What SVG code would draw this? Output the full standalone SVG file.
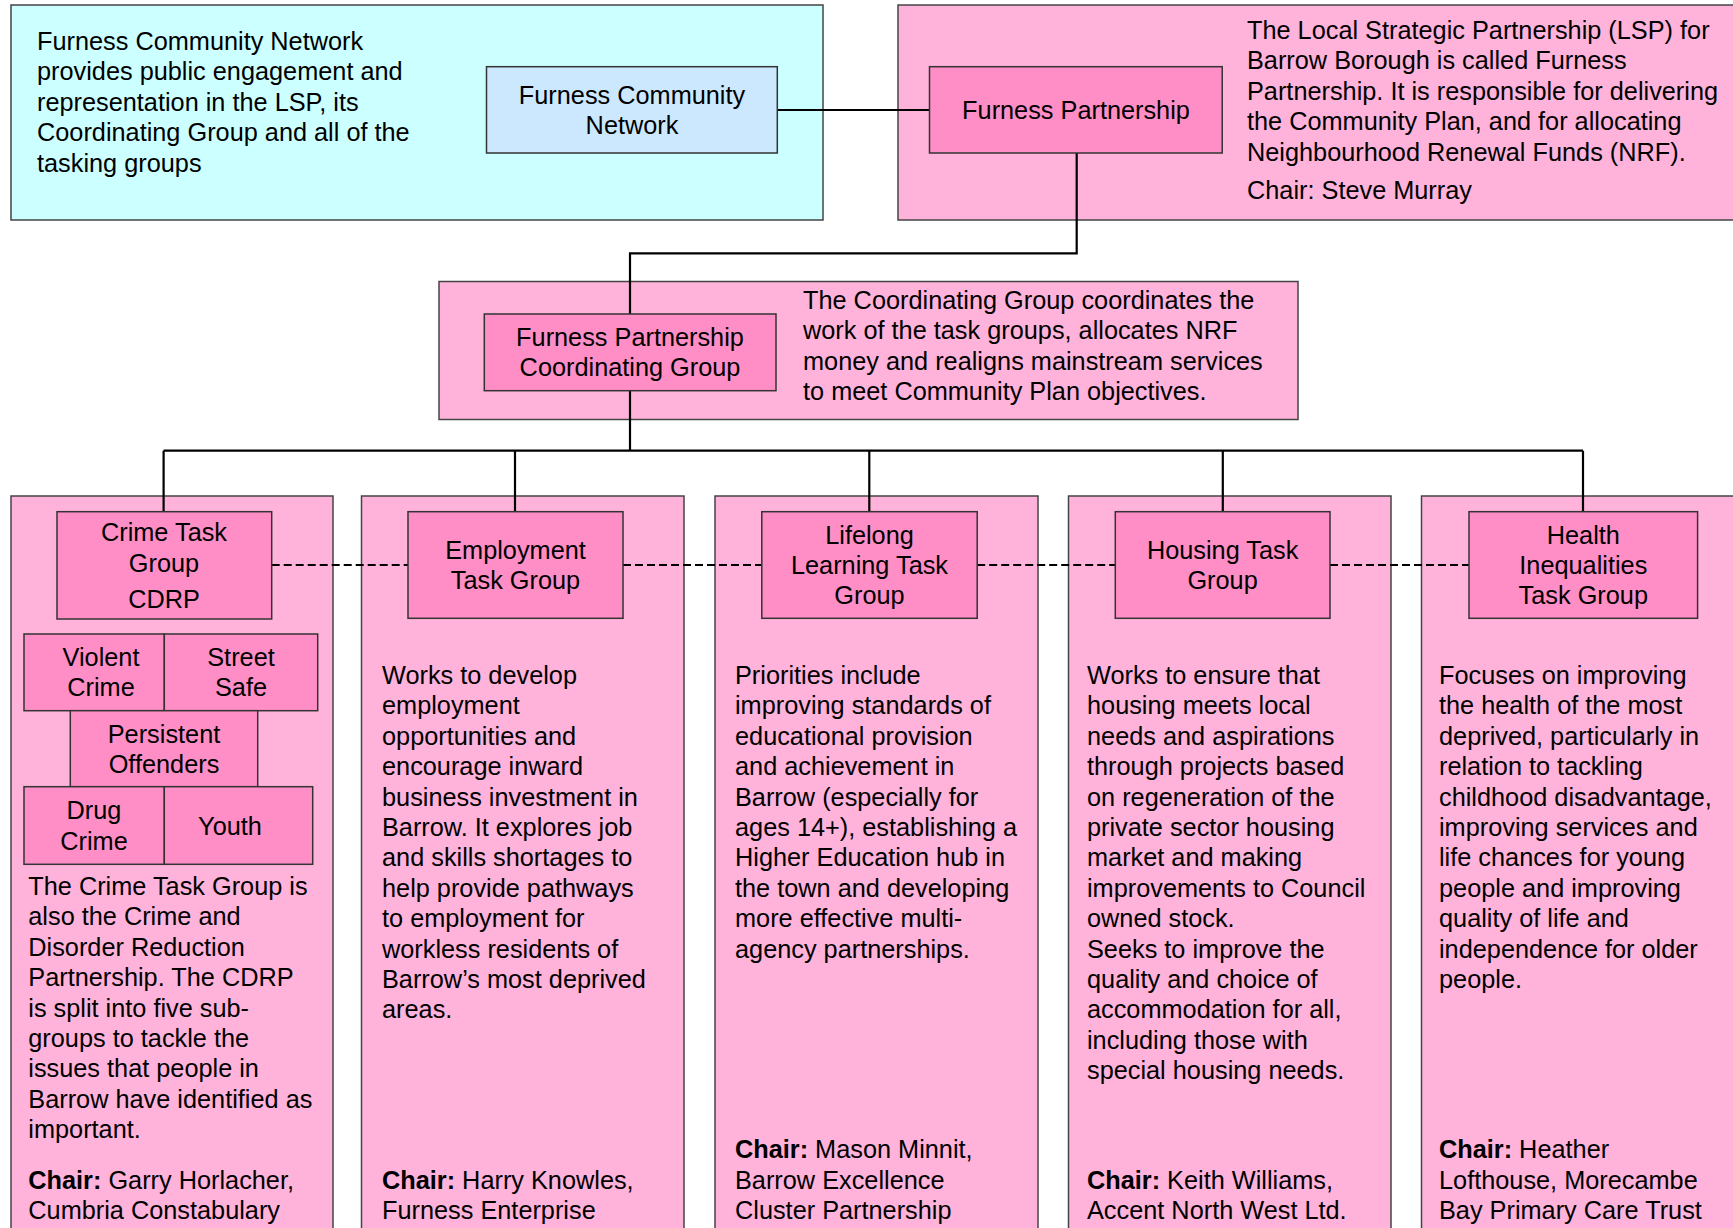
<svg xmlns="http://www.w3.org/2000/svg" width="1733" height="1228" viewBox="0 0 1733 1228">
<style>
.t{font-family:"Liberation Sans",Arial,Helvetica,sans-serif;font-size:25.3px;fill:#000}
.c{text-anchor:middle}
.b{font-weight:bold}
.outer{stroke:#444;stroke-width:1.5}
.pinkbg{fill:#FFB3DA}
.node{fill:#FF8EC6;stroke:#333;stroke-width:1.5}
.conn{stroke:#000;stroke-width:2.2;fill:none}
.dash{stroke-dasharray:8 4}
</style>
<rect x="0" y="0" width="1733" height="1228" fill="#fff"/>

<!-- containers -->
<g id="fcn-panel">
<rect class="outer" x="11" y="5" width="812" height="215" fill="#CCFFFF"/>
<text class="t"><tspan x="37" y="50">Furness Community Network</tspan><tspan x="37" y="80.4">provides public engagement and</tspan><tspan x="37" y="110.8">representation in the LSP, its</tspan><tspan x="37" y="141.2">Coordinating Group and all of the</tspan><tspan x="37" y="171.6">tasking groups</tspan></text>
</g>
<g id="lsp-panel">
<rect class="outer pinkbg" x="898" y="5" width="850" height="215"/>
<text class="t"><tspan x="1247" y="39">The Local Strategic Partnership (LSP) for</tspan><tspan x="1247" y="69.4">Barrow Borough is called Furness</tspan><tspan x="1247" y="99.8">Partnership. It is responsible for delivering</tspan><tspan x="1247" y="130.2">the Community Plan, and for allocating</tspan><tspan x="1247" y="160.6">Neighbourhood Renewal Funds (NRF).</tspan><tspan x="1247" y="198.5">Chair: Steve Murray</tspan></text>
</g>
<g id="coord-panel">
<rect class="outer pinkbg" x="439" y="281.5" width="859" height="138"/>
<text class="t"><tspan x="803" y="309">The Coordinating Group coordinates the</tspan><tspan x="803" y="339.4">work of the task groups, allocates NRF</tspan><tspan x="803" y="369.8">money and realigns mainstream services</tspan><tspan x="803" y="400.2">to meet Community Plan objectives.</tspan></text>
</g>
<g id="crime-panel">
<rect class="outer pinkbg" x="11" y="496" width="322" height="760"/>
<text class="t"><tspan x="28.3" y="895">The Crime Task Group is</tspan><tspan x="28.3" y="925.4">also the Crime and</tspan><tspan x="28.3" y="955.8">Disorder Reduction</tspan><tspan x="28.3" y="986.2">Partnership. The CDRP</tspan><tspan x="28.3" y="1016.6">is split into five sub-</tspan><tspan x="28.3" y="1047">groups to tackle the</tspan><tspan x="28.3" y="1077.4">issues that people in</tspan><tspan x="28.3" y="1107.8">Barrow have identified as</tspan><tspan x="28.3" y="1138.2">important.</tspan></text>
<text class="t"><tspan x="28.3" y="1188.5"><tspan class="b">Chair:</tspan> Garry Horlacher,</tspan><tspan x="28.3" y="1218.9">Cumbria Constabulary</tspan></text>
</g>
<g id="employment-panel">
<rect class="outer pinkbg" x="361.5" y="496" width="322.5" height="760"/>
<text class="t"><tspan x="382" y="684">Works to develop</tspan><tspan x="382" y="714.4">employment</tspan><tspan x="382" y="744.8">opportunities and</tspan><tspan x="382" y="775.2">encourage inward</tspan><tspan x="382" y="805.6">business investment in</tspan><tspan x="382" y="836">Barrow. It explores job</tspan><tspan x="382" y="866.4">and skills shortages to</tspan><tspan x="382" y="896.8">help provide pathways</tspan><tspan x="382" y="927.2">to employment for</tspan><tspan x="382" y="957.6">workless residents of</tspan><tspan x="382" y="988">Barrow’s most deprived</tspan><tspan x="382" y="1018.4">areas.</tspan></text>
<text class="t"><tspan x="382" y="1188.5"><tspan class="b">Chair:</tspan> Harry Knowles,</tspan><tspan x="382" y="1218.9">Furness Enterprise</tspan></text>
</g>
<g id="lifelong-panel">
<rect class="outer pinkbg" x="715" y="496" width="323" height="760"/>
<text class="t"><tspan x="735" y="684">Priorities include</tspan><tspan x="735" y="714.4">improving standards of</tspan><tspan x="735" y="744.8">educational provision</tspan><tspan x="735" y="775.2">and achievement in</tspan><tspan x="735" y="805.6">Barrow (especially for</tspan><tspan x="735" y="836">ages 14+), establishing a</tspan><tspan x="735" y="866.4">Higher Education hub in</tspan><tspan x="735" y="896.8">the town and developing</tspan><tspan x="735" y="927.2">more effective multi-</tspan><tspan x="735" y="957.6">agency partnerships.</tspan></text>
<text class="t"><tspan x="735" y="1158.1"><tspan class="b">Chair:</tspan> Mason Minnit,</tspan><tspan x="735" y="1188.5">Barrow Excellence</tspan><tspan x="735" y="1218.9">Cluster Partnership</tspan></text>
</g>
<g id="housing-panel">
<rect class="outer pinkbg" x="1068.5" y="496" width="322.5" height="760"/>
<text class="t"><tspan x="1087" y="684">Works to ensure that</tspan><tspan x="1087" y="714.4">housing meets local</tspan><tspan x="1087" y="744.8">needs and aspirations</tspan><tspan x="1087" y="775.2">through projects based</tspan><tspan x="1087" y="805.6">on regeneration of the</tspan><tspan x="1087" y="836">private sector housing</tspan><tspan x="1087" y="866.4">market and making</tspan><tspan x="1087" y="896.8">improvements to Council</tspan><tspan x="1087" y="927.2">owned stock.</tspan><tspan x="1087" y="957.6">Seeks to improve the</tspan><tspan x="1087" y="988">quality and choice of</tspan><tspan x="1087" y="1018.4">accommodation for all,</tspan><tspan x="1087" y="1048.8">including those with</tspan><tspan x="1087" y="1079.2">special housing needs.</tspan></text>
<text class="t"><tspan x="1087" y="1188.5"><tspan class="b">Chair:</tspan> Keith Williams,</tspan><tspan x="1087" y="1218.9">Accent North West Ltd.</tspan></text>
</g>
<g id="health-panel">
<rect class="outer pinkbg" x="1421.5" y="496" width="330" height="760"/>
<text class="t"><tspan x="1439" y="684">Focuses on improving</tspan><tspan x="1439" y="714.4">the health of the most</tspan><tspan x="1439" y="744.8">deprived, particularly in</tspan><tspan x="1439" y="775.2">relation to tackling</tspan><tspan x="1439" y="805.6">childhood disadvantage,</tspan><tspan x="1439" y="836">improving services and</tspan><tspan x="1439" y="866.4">life chances for young</tspan><tspan x="1439" y="896.8">people and improving</tspan><tspan x="1439" y="927.2">quality of life and</tspan><tspan x="1439" y="957.6">independence for older</tspan><tspan x="1439" y="988">people.</tspan></text>
<text class="t"><tspan x="1439" y="1158.1"><tspan class="b">Chair:</tspan> Heather</tspan><tspan x="1439" y="1188.5">Lofthouse, Morecambe</tspan><tspan x="1439" y="1218.9">Bay Primary Care Trust</tspan></text>
</g>

<!-- connectors -->
<g id="connectors">
<path class="conn" d="M777.3 110 H929.5"/>
<path class="conn" d="M1076.7 153 V253.3 H630 V314"/>
<path class="conn" d="M630 390.7 V450.7"/>
<path class="conn" d="M163.6 450.7 H1583"/>
<path class="conn" d="M163.6 450.7 V511.7 M515 450.7 V511.7 M869.3 450.7 V511.7 M1222.8 450.7 V511.7 M1583 450.7 V511.7"/>
<path class="conn dash" d="M271.7 565 H408 M623 565 H761.8 M977.2 565 H1115.3 M1330 565 H1469"/>
</g>

<!-- nodes -->
<g id="n-fcn">
<rect x="486.5" y="66.7" width="290.8" height="86.3" fill="#CCE8FF" stroke="#333" stroke-width="1.5"/>
<text class="t c"><tspan x="632" y="104">Furness Community</tspan><tspan x="632" y="134.4">Network</tspan></text>
</g>
<g id="n-fp">
<rect class="node" x="929.5" y="66.7" width="292.7" height="86.3"/>
<text class="t c" x="1076" y="119">Furness Partnership</text>
</g>
<g id="n-coord">
<rect class="node" x="484.3" y="314" width="291.7" height="76.7"/>
<text class="t c"><tspan x="630" y="346">Furness Partnership</tspan><tspan x="630" y="376.4">Coordinating Group</tspan></text>
</g>
<g id="n-crime">
<rect class="node" x="57" y="511.7" width="214.7" height="107.3"/>
<text class="t c"><tspan x="164" y="541">Crime Task</tspan><tspan x="164" y="571.5">Group</tspan><tspan x="164" y="608">CDRP</tspan></text>
</g>
<g id="n-violent">
<rect class="node" x="24" y="634" width="140.3" height="76.7"/>
<text class="t c"><tspan x="101" y="666">Violent</tspan><tspan x="101" y="696.4">Crime</tspan></text>
</g>
<g id="n-street">
<rect class="node" x="164.3" y="634" width="153.4" height="76.7"/>
<text class="t c"><tspan x="241" y="666">Street</tspan><tspan x="241" y="696.4">Safe</tspan></text>
</g>
<g id="n-persistent">
<rect class="node" x="70.3" y="710.7" width="187.4" height="76"/>
<text class="t c"><tspan x="164" y="742.5">Persistent</tspan><tspan x="164" y="772.9">Offenders</tspan></text>
</g>
<g id="n-drug">
<rect class="node" x="24" y="786.7" width="140.3" height="77.6"/>
<text class="t c"><tspan x="94" y="819.3">Drug</tspan><tspan x="94" y="849.7">Crime</tspan></text>
</g>
<g id="n-youth">
<rect class="node" x="164.3" y="786.7" width="148.4" height="77.6"/>
<text class="t c" x="230" y="834.5">Youth</text>
</g>
<g id="n-employment">
<rect class="node" x="408" y="511.7" width="215" height="106.6"/>
<text class="t c"><tspan x="515.5" y="558.8">Employment</tspan><tspan x="515.5" y="589.2">Task Group</tspan></text>
</g>
<g id="n-lifelong">
<rect class="node" x="761.8" y="511.7" width="215.4" height="106.6"/>
<text class="t c"><tspan x="869.5" y="543.6">Lifelong</tspan><tspan x="869.5" y="574">Learning Task</tspan><tspan x="869.5" y="604.4">Group</tspan></text>
</g>
<g id="n-housing">
<rect class="node" x="1115.3" y="511.7" width="214.7" height="106.6"/>
<text class="t c"><tspan x="1222.6" y="558.8">Housing Task</tspan><tspan x="1222.6" y="589.2">Group</tspan></text>
</g>
<g id="n-health">
<rect class="node" x="1469" y="511.7" width="228.6" height="106.6"/>
<text class="t c"><tspan x="1583.3" y="543.6">Health</tspan><tspan x="1583.3" y="574">Inequalities</tspan><tspan x="1583.3" y="604.4">Task Group</tspan></text>
</g>
</svg>
